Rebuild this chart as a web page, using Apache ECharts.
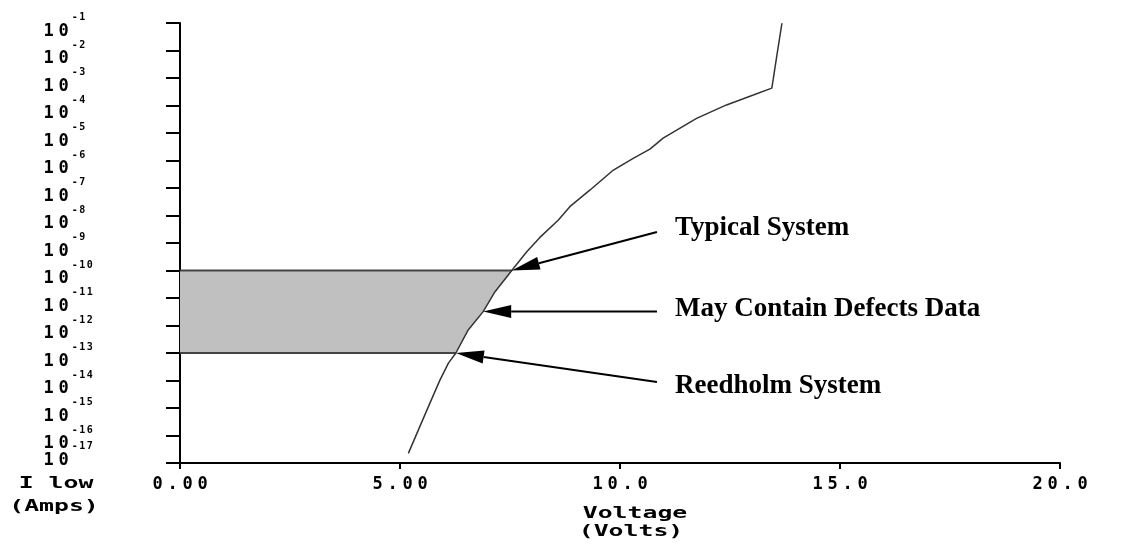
<!DOCTYPE html>
<html>
<head>
<meta charset="utf-8">
<title>Ilow vs Voltage</title>
<script src="https://cdn.jsdelivr.net/npm/echarts@6.0.0/dist/echarts.min.js"></script>
<style>
  html, body { margin: 0; padding: 0; background: #fff; }
  #main { width: 1135px; height: 546px; }
</style>
</head>
<body>
<div id="main"></div>
<script>
// curve: voltage (V) / Ilow (A)
var volts = [5.19, 5.45, 5.68, 5.91, 6.10, 6.27, 6.55, 6.89, 7.16, 7.54, 7.88, 8.18, 8.60,
             8.86, 9.32, 9.85, 10.30, 10.68, 10.98, 11.74, 12.42, 13.03, 13.45, 13.48, 13.56, 13.68];
var amps = [2.24e-17, 2.1e-16, 1.5e-15, 1.05e-14, 4.3e-14, 1e-13, 6.9e-13, 3.2e-12, 1.7e-11,
            1e-10, 4.8e-10, 1.6e-9, 6.9e-9, 2.1e-8, 8.5e-8, 4.5e-7, 1.2e-6, 2.6e-6, 6.5e-6,
            3.4e-5, 1.05e-4, 2.4e-4, 4.3e-4, 8.5e-4, 5.9e-3, 9.8e-2];

// grey band between these currents
var bandLow = 1e-13;
var bandHigh = 1e-10;

// annotation arrows (start at the text, tip on the curve)
var notes = ['Typical System', 'May Contain Defects Data', 'Reedholm System'];
var arrowFromV = [10.84, 10.84, 10.84];
var arrowFromI = [2.5e-9, 3.2e-12, 8.9e-15];
var arrowToV = [7.54, 6.89, 6.27];
var arrowToI = [1e-10, 3.2e-12, 1e-13];

var MONO = 'DejaVu Sans Mono';
var lg = function (a) { return Math.round(Math.log10(a) * 1000) / 1000; };

// every character gets a fixed 15px cell, like the wide terminal font
function cells(str, style) {
  return str.split('').map(function (c) { return '{' + style + '|' + c + '}'; }).join('');
}

var curve = volts.map(function (v, i) { return [v, lg(amps[i])]; });

// band polygon: y axis edge + the part of the curve inside the band
var bandPts = [[0, lg(bandHigh)], [0, lg(bandLow)]];
curve.forEach(function (p) {
  if (p[1] >= lg(bandLow) - 1e-6 && p[1] <= lg(bandHigh) + 1e-6) bandPts.push(p);
});

var arrows = notes.map(function (n, i) {
  return [arrowFromV[i], lg(arrowFromI[i]), arrowToV[i], lg(arrowToI[i])];
});

var myChart = echarts.init(document.getElementById('main'));

// token height is what places a top/bottom aligned token inside the line
function glyph(size, lh, h, w, va) {
  var st = {
    fontFamily: MONO, fontWeight: 'bold', fontSize: size, lineHeight: lh,
    width: w, align: 'center', verticalAlign: va, color: '#000'
  };
  if (h != null) st.height = h;
  return st;
}
var yRich = {
  h: glyph(10, 20, null, 1, 'middle'),     // spacer: label box height
  b: glyph(17, 14, 3, 15, 'bottom'),       // the "10"
  s: glyph(10, 14, 9, 7.5, 'top'),         // exponent
  b2: glyph(17, 14, 24.4, 15, 'bottom'),   // lowest label sits higher
  s2: glyph(10, 14, 52.4, 7.5, 'bottom')
};

function nameText(str, x, y) {
  return {
    type: 'text', x: x, y: y, scaleX: 1.55,
    style: {
      text: str, x: 0, y: 0, align: 'center', verticalAlign: 'middle',
      fontFamily: MONO, fontWeight: 'bold', fontSize: 16, fill: '#000'
    }
  };
}
function noteText(str, y) {
  return {
    type: 'text', x: 675, y: y,
    style: {
      text: str, align: 'left', verticalAlign: 'middle',
      fontFamily: 'Liberation Serif', fontWeight: 'bold', fontSize: 27, fill: '#000'
    }
  };
}

var yBase = {
  type: 'value', min: -17, max: -1, interval: 1, position: 'left',
  splitLine: { show: false }
};

myChart.setOption({
  animation: false,
  backgroundColor: '#fff',
  grid: { left: 180, right: 75, top: 23, bottom: 83, outerBoundsMode: 'none' },
  xAxis: {
    type: 'value', min: 0, max: 20, interval: 5,
    splitLine: { show: false },
    axisLine: { show: true, lineStyle: { color: '#000', width: 2 } },
    axisTick: { show: true, length: 6, lineStyle: { color: '#000', width: 2 } },
    axisLabel: {
      margin: 15, showMinLabel: true, showMaxLabel: true, hideOverlap: false,
      formatter: function (v) { return cells(v < 10 ? v.toFixed(2) : v.toFixed(1), 'd'); },
      rich: { d: glyph(17, 14, null, 15, 'middle') }
    }
  },
  yAxis: [
    Object.assign({}, yBase, {
      axisLine: { show: true, lineStyle: { color: '#000', width: 2 } },
      axisTick: { show: true, length: 14, lineStyle: { color: '#000', width: 2 } },
      axisLabel: {
        align: 'left', margin: 140, showMinLabel: true, showMaxLabel: true, hideOverlap: false,
        formatter: function (v) {
          var e = Math.round(v);
          return e === -17 ? '' : '{h| }' + cells('10', 'b') + cells(String(e), 's');
        },
        rich: yRich
      }
    }),
    // the squeezed bottom label overlaps its neighbour, so it lives on its own axis
    Object.assign({}, yBase, {
      axisLine: { show: false },
      axisTick: { show: false },
      axisLabel: {
        align: 'left', margin: 140, showMinLabel: true, showMaxLabel: true, hideOverlap: false,
        formatter: function (v) {
          var e = Math.round(v);
          return e === -17 ? '{h| }' + cells('10', 'b2') + cells(String(e), 's2') : '';
        },
        rich: yRich
      }
    })
  ],
  graphic: [
    nameText('I low', 56, 484),
    nameText('(Amps)', 54, 507),
    nameText('Voltage', 635, 514),
    nameText('(Volts)', 631, 532),
    noteText(notes[0], 228),
    noteText(notes[1], 309),
    noteText(notes[2], 386)
  ],
  series: [
    {
      type: 'custom', z: 1, silent: true,
      data: [[0, lg(bandLow)]],
      renderItem: function (params, api) {
        var pts = bandPts.map(function (p) { return api.coord(p); });
        var top = api.coord([0, lg(bandHigh)]), bot = api.coord([0, lg(bandLow)]);
        var topEnd = pts[pts.length - 1], botEnd = pts[2];
        return {
          type: 'group',
          children: [
            { type: 'polygon', shape: { points: pts }, style: { fill: '#c0c0c0' } },
            { type: 'line', shape: { x1: top[0], y1: top[1], x2: topEnd[0], y2: topEnd[1] },
              style: { stroke: '#444', lineWidth: 2 } },
            { type: 'line', shape: { x1: bot[0], y1: bot[1], x2: botEnd[0], y2: botEnd[1] },
              style: { stroke: '#444', lineWidth: 2 } }
          ]
        };
      }
    },
    {
      type: 'line', z: 3, data: curve, showSymbol: false, silent: true,
      lineStyle: { color: '#333', width: 1.5 }
    },
    {
      type: 'custom', z: 4, silent: true,
      data: arrows,
      renderItem: function (params, api) {
        var p0 = api.coord([api.value(0), api.value(1)]);
        var p1 = api.coord([api.value(2), api.value(3)]);
        var dx = p1[0] - p0[0], dy = p1[1] - p0[1];
        var len = Math.sqrt(dx * dx + dy * dy), ux = dx / len, uy = dy / len;
        var hl = 28, hw = 6.5;
        var bx = p1[0] - ux * hl, by = p1[1] - uy * hl;
        return {
          type: 'group',
          children: [
            { type: 'line', shape: { x1: p0[0], y1: p0[1], x2: bx, y2: by },
              style: { stroke: '#000', lineWidth: 2 } },
            { type: 'polygon',
              shape: { points: [[p1[0], p1[1]], [bx - uy * hw, by + ux * hw], [bx + uy * hw, by - ux * hw]] },
              style: { fill: '#000' } }
          ]
        };
      }
    }
  ]
});
</script>
</body>
</html>
